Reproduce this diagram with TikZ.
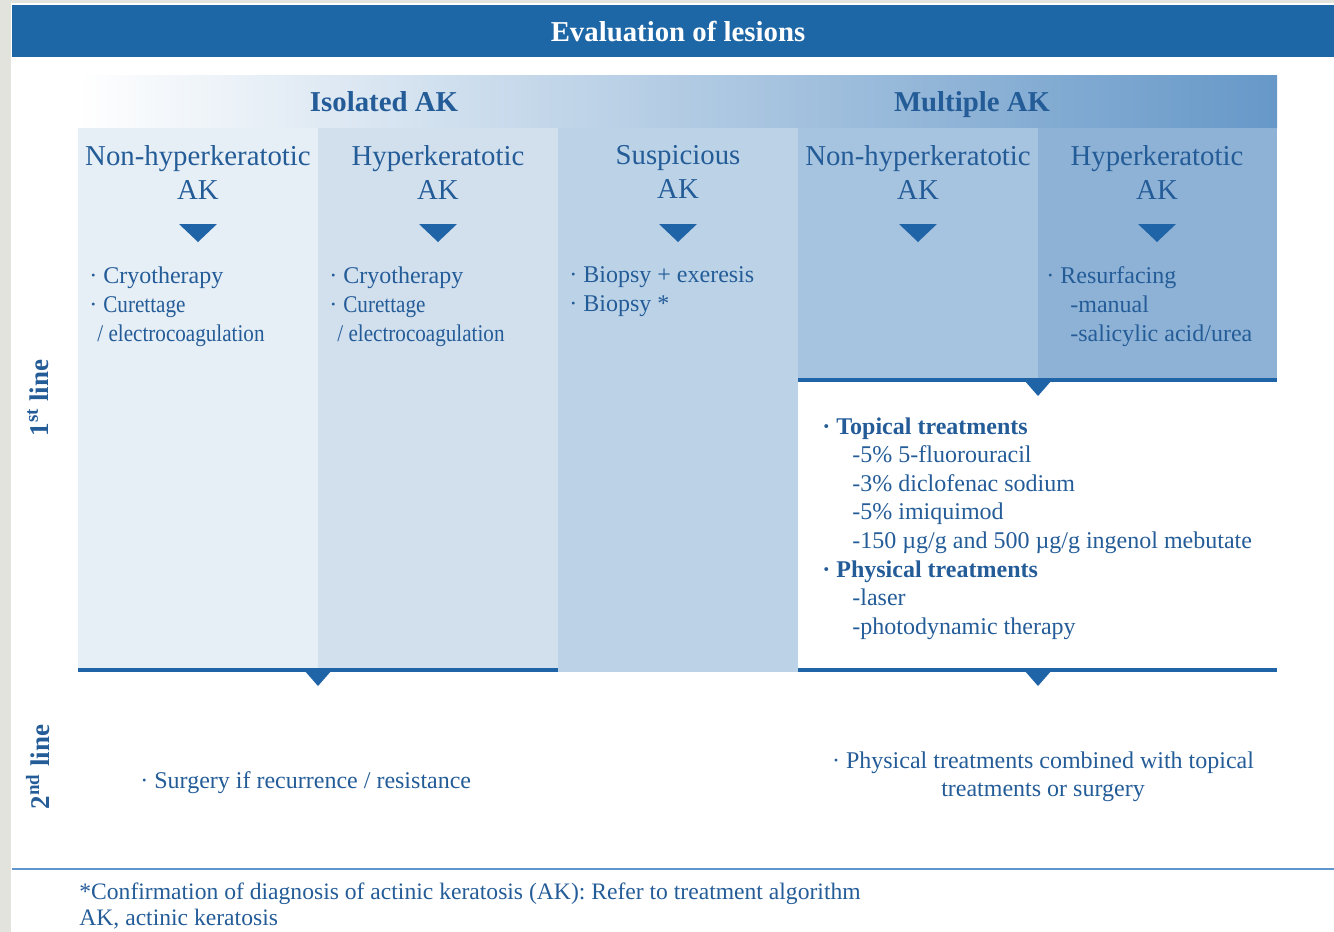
\documentclass[tikz,border=0pt]{standalone}
\usepackage{fontspec}
\setmainfont{Liberation Serif}
\newfontfamily\narrowserif{Liberation Serif}[FakeStretch=0.88]
\usetikzlibrary{positioning}
\definecolor{sidegray}{RGB}{227,227,222}
\definecolor{bannerblue}{RGB}{30,103,166}
\definecolor{inkblue}{RGB}{36,92,152}
\definecolor{rulerblue}{RGB}{32,100,168}
\definecolor{footblue}{RGB}{96,150,204}
\definecolor{colA}{RGB}{230,238,246}
\definecolor{colB}{RGB}{210,224,238}
\definecolor{colC}{RGB}{188,211,231}
\definecolor{colD}{RGB}{166,195,223}
\definecolor{colE}{RGB}{142,178,214}
\definecolor{headright}{RGB}{102,152,200}

\begin{document}
\begin{tikzpicture}[x=0.5pt,y=-0.5pt,
	colhead/.style={text=inkblue, font=\fontsize{14.4}{17}\selectfont, align=center, anchor=north, inner sep=0pt},
	grouphead/.style={text=inkblue, font=\bfseries\fontsize{14.4}{17}\selectfont, anchor=base, inner sep=0pt},
	item/.style={text=inkblue, font=\fontsize{12}{14.5}\selectfont, align=left, anchor=north west, inner sep=0pt},
	linelabel/.style={text=inkblue, font=\bfseries\fontsize{13.5}{16}\selectfont, rotate=90, inner sep=0pt},
	notch/.style={fill=rulerblue}]
	\useasboundingbox (0,0) rectangle (1334,932);
	\fill[sidegray] (0,0) rectangle (11,932);
	\fill[sidegray] (0,0) rectangle (1334,3);
	\fill[bannerblue] (12,5) rectangle (1334,57);
	\shade[left color=white, right color=headright] (78,75) rectangle (1277,128);
	\fill[colA] (78,128) rectangle (318,670);
	\fill[colB] (318,128) rectangle (558,670);
	\fill[colC] (558,128) rectangle (798,672);
	\fill[colD] (798,128) rectangle (1038,380);
	\fill[colE] (1038,128) rectangle (1277,380);
	\draw[rulerblue, line width=2pt] (78,670) -- (558,670);
	\draw[rulerblue, line width=2pt] (798,670) -- (1277,670);
	\draw[rulerblue, line width=2pt] (798,380) -- (1277,380);
	\fill[notch] (304,670) -- (332,670) -- (318,686) -- cycle;
	\fill[notch] (1024,670) -- (1052,670) -- (1038,686) -- cycle;
	\fill[notch] (1024,380) -- (1052,380) -- (1038,396) -- cycle;
	\foreach \cx in {198,438,678,918,1157}
		\fill[notch] (\cx-19,224) -- (\cx+19,224) -- (\cx,242) -- cycle;
	\draw[footblue, line width=1pt] (12,869) -- (1334,869);

	\path (678,41) node (title) [grouphead, text=white] {Evaluation of lesions}
		  (384,111) node (isolated) [grouphead] {Isolated AK}
		  (972,111) node (multiple) [grouphead] {Multiple AK};

	\path (198,145) node (nonhypA) [colhead] {Non-hyperkeratotic\\AK}
		  (438,145) node (hypA) [colhead] {Hyperkeratotic\\AK}
		  (678,145) node (susp) [colhead] {Suspicious\\AK}
		  (918,145) node (nonhypB) [colhead] {Non-hyperkeratotic\\AK}
		  (1157,145) node (hypB) [colhead] {Hyperkeratotic\\AK};

	\path (89,266) node (listA) [item] {\textperiodcentered\ Cryotherapy\\
			\textperiodcentered\ {\narrowserif Curettage}\\
			\hspace*{4pt}{\narrowserif / electrocoagulation}}
		  (329,266) node (listB) [item] {\textperiodcentered\ Cryotherapy\\
			\textperiodcentered\ {\narrowserif Curettage}\\
			\hspace*{4pt}{\narrowserif / electrocoagulation}}
		  (569,266) node (listC) [item] {\textperiodcentered\ Biopsy + exeresis\\
			\textperiodcentered\ Biopsy *}
		  (1046,266) node (listE) [item] {\textperiodcentered\ Resurfacing\\
			\hspace*{12pt}-manual\\
			\hspace*{12pt}-salicylic acid/urea};

	\path (822,417) node (multi) [item, font=\fontsize{12}{14.3}\selectfont] {\textbf{\textperiodcentered\ Topical treatments}\\
			\hspace*{15pt}-5\% 5-fluorouracil\\
			\hspace*{15pt}-3\% diclofenac sodium\\
			\hspace*{15pt}-5\% imiquimod\\
			\hspace*{15pt}-150 µg/g and 500 µg/g ingenol mebutate\\
			\textbf{\textperiodcentered\ Physical treatments}\\
			\hspace*{15pt}-laser\\
			\hspace*{15pt}-photodynamic therapy};

	\path (38,398) node (first) [linelabel] {1\textsuperscript{st} line}
		  (38,767) node (second) [linelabel] {2\textsuperscript{nd} line};

	\path (140,771) node (surgery) [item] {\textperiodcentered\ Surgery if recurrence / resistance}
		  (1043,777) node (combined) [item, anchor=center, align=center, font=\fontsize{12}{14}\selectfont] {\textperiodcentered\ Physical treatments combined with topical\\treatments or surgery};

	\path (79,882) node (footnote) [item, font=\fontsize{11.8}{13}\selectfont] {*Confirmation of diagnosis of actinic keratosis (AK): Refer to treatment algorithm\\AK, actinic keratosis};
\end{tikzpicture}
\end{document}
